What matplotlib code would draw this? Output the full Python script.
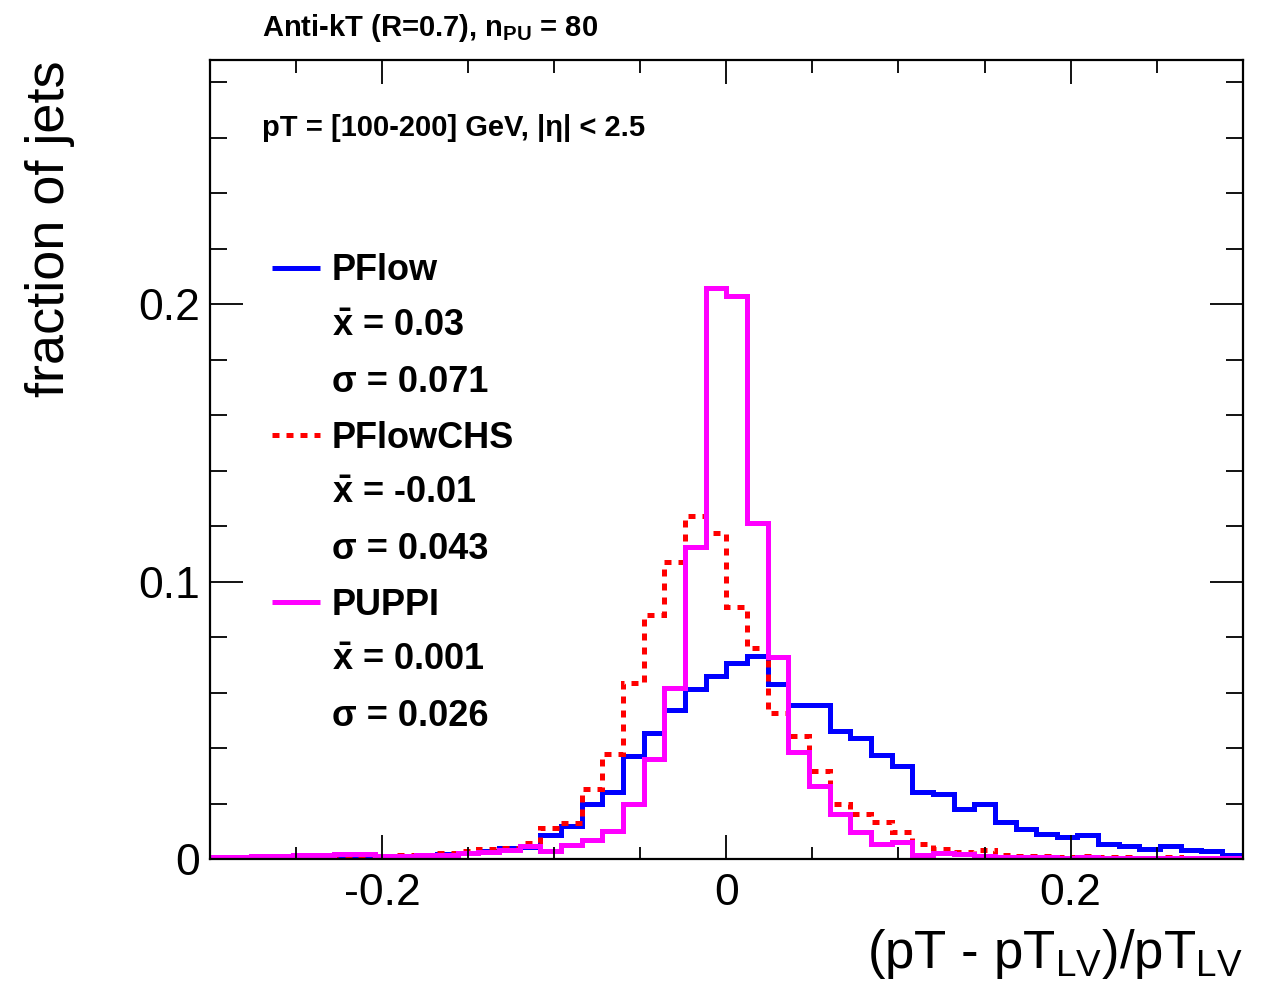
import numpy as np
import matplotlib
matplotlib.use("Agg")
import matplotlib.pyplot as plt
from matplotlib.ticker import MultipleLocator, FuncFormatter

plt.rcParams["font.family"] = ["Liberation Sans", "DejaVu Sans"]
plt.rcParams["mathtext.fontset"] = "custom"
plt.rcParams["mathtext.rm"] = "Liberation Sans"
plt.rcParams["mathtext.it"] = "Liberation Sans:italic"
plt.rcParams["mathtext.bf"] = "Liberation Sans:bold"
plt.rcParams["axes.unicode_minus"] = False

# 50 bins from -0.3 to 0.3
bin_edges = np.linspace(-0.3, 0.3, 51)

pflow = [
    0.0008, 0.0006, 0.0010, 0.0012, 0.0014, 0.0012, 0.0008, 0.0004, 0.0010, 0.0012,
    0.0014, 0.0018, 0.0022, 0.0028, 0.0038, 0.0042, 0.0086, 0.0120, 0.0198, 0.0242,
    0.0370, 0.0453, 0.0536, 0.0614, 0.0660, 0.0705, 0.0733, 0.0630, 0.0556, 0.0557,
    0.0460, 0.0437, 0.0374, 0.0335, 0.0243, 0.0234, 0.0180, 0.0198, 0.0134, 0.0110,
    0.0090, 0.0080, 0.0088, 0.0055, 0.0047, 0.0036, 0.0046, 0.0032, 0.0030, 0.0016]

pflowchs = [
    0.0005, 0.0006, 0.0008, 0.0012, 0.0015, 0.0010, 0.0006, 0.0004, 0.0012, 0.0014,
    0.0016, 0.0020, 0.0028, 0.0036, 0.0040, 0.0058, 0.0112, 0.0130, 0.0252, 0.0380,
    0.0635, 0.0880, 0.1070, 0.1235, 0.1175, 0.0908, 0.0760, 0.0527, 0.0442, 0.0317,
    0.0200, 0.0164, 0.0134, 0.0098, 0.0054, 0.0036, 0.0026, 0.0034, 0.0014, 0.0010,
    0.0012, 0.0008, 0.0012, 0.0006, 0.0006, 0.0005, 0.0006, 0.0004, 0.0004, 0.0004]

puppi = [
    0.0007, 0.0007, 0.0010, 0.0012, 0.0014, 0.0015, 0.0017, 0.0018, 0.0012, 0.0010,
    0.0013, 0.0014, 0.0020, 0.0026, 0.0031, 0.0048, 0.0030, 0.0050, 0.0070, 0.0100,
    0.0200, 0.0360, 0.0615, 0.1125, 0.2060, 0.2030, 0.1210, 0.0730, 0.0385, 0.0265,
    0.0164, 0.0096, 0.0054, 0.0060, 0.0015, 0.0022, 0.0018, 0.0012, 0.0008, 0.0007,
    0.0006, 0.0005, 0.0006, 0.0005, 0.0005, 0.0004, 0.0005, 0.0004, 0.0004, 0.0004]

names = ["PFlow", "PFlowCHS", "PUPPI"]
means = ["0.03", "-0.01", "0.001"]
sigmas = ["0.071", "0.043", "0.026"]
colors = ["#0000ff", "#ff0000", "#ff00ff"]
styles = ["-", (0, (1.4, 1.4)), "-"]

fig = plt.figure(figsize=(12.72, 9.84), dpi=100)
ax = fig.add_axes([0.165, 0.127, 0.812, 0.812])

lw = 3.6
for vals, c, ls in zip([pflow, pflowchs, puppi], colors, styles):
    ax.stairs(vals, bin_edges, baseline=None, color=c, lw=lw, linestyle=ls)

ax.set_xlim(-0.3, 0.3)
ax.set_ylim(0, 0.288)

ax.xaxis.set_major_locator(MultipleLocator(0.2))
ax.xaxis.set_minor_locator(MultipleLocator(0.05))
ax.yaxis.set_major_locator(MultipleLocator(0.1))
ax.yaxis.set_minor_locator(MultipleLocator(0.02))
fmt = FuncFormatter(lambda v, p: "%g" % round(v, 3))
ax.xaxis.set_major_formatter(fmt)
ax.yaxis.set_major_formatter(fmt)

ax.tick_params(which="both", direction="in", top=True, right=True, width=1.3)
ax.tick_params(axis="x", which="major", length=17, pad=10, labelsize=32)
ax.tick_params(axis="x", which="minor", length=9)
ax.tick_params(axis="y", which="major", length=24, pad=7, labelsize=32)
ax.tick_params(axis="y", which="minor", length=12)
for s in ax.spines.values():
    s.set_linewidth(1.6)

# axis titles, ROOT style
fig.text(0.977, 0.003, r"(pT - pT$_{\mathregular{LV}}$)/pT$_{\mathregular{LV}}$",
         ha="right", va="bottom", fontsize=38)
fig.text(0.039, 0.939, "fraction of jets", rotation=90,
         ha="center", va="top", fontsize=39)

fig.text(0.206, 0.9715, r"Anti-kT (R=0.7), $\mathbf{n_{PU}}$ = 80",
         ha="left", va="center", fontsize=21, fontweight="bold")
ax.text(0.050, 0.915, "pT = [100-200] GeV, |η| < 2.5", transform=ax.transAxes,
        ha="left", va="center", fontsize=21, fontweight="bold")

# legend with stats
y0 = 0.736
step = 0.0697
for i, (n, m, s, c, ls) in enumerate(zip(names, means, sigmas, colors, styles)):
    yy = y0 - 3 * i * step
    ax.plot([0.060, 0.1065], [yy + 0.004, yy + 0.004], transform=ax.transAxes,
            color=c, lw=lw, linestyle=ls, solid_capstyle="butt", dash_capstyle="butt")
    ax.text(0.118, yy, n, transform=ax.transAxes, ha="left", va="center",
            fontsize=26, fontweight="bold")
    ax.text(0.118, yy - step, r"$\mathbf{\bar{x}}$ = " + m, transform=ax.transAxes,
            ha="left", va="center", fontsize=26, fontweight="bold")
    ax.text(0.118, yy - 2 * step, "σ = " + s, transform=ax.transAxes,
            ha="left", va="center", fontsize=26, fontweight="bold")

fig.savefig("out.png", dpi=100)
